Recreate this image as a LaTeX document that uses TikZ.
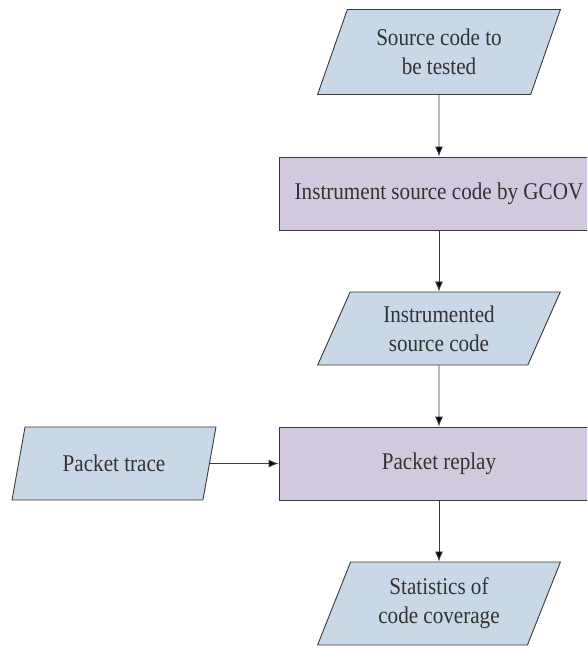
\documentclass[tikz,border=0pt]{standalone}
\usepackage{fontspec}
\setmainfont{Liberation Serif}[FakeStretch=0.88]
\usepackage{xcolor}
\usepackage{tikz}
\usetikzlibrary{shapes.geometric, arrows.meta}

\definecolor{datablue}{HTML}{C9D8E6}
\definecolor{procpurple}{HTML}{D3C9DE}
\definecolor{edgegray}{HTML}{3A3A3A}

\begin{document}
\begin{tikzpicture}[x=1pt, y=-1pt,
    data/.style={shape=trapezium, trapezium left angle=66, trapezium right angle=114,
        trapezium stretches=true, draw=edgegray, fill=datablue, line width=0.9pt,
        minimum width=243pt, minimum height=85pt, inner sep=0pt, align=center,
        text=black!80, font=\fontsize{24}{28.8}\selectfont},
    proc/.style={shape=rectangle, draw=edgegray, fill=procpurple, line width=0.9pt,
        minimum width=320pt, minimum height=73pt, inner sep=0pt,
        text=black!80, font=\fontsize{24}{28.8}\selectfont},
    flow/.style={line width=0.9pt, draw=edgegray, -{Latex[length=10pt, width=8pt]}}]

            \useasboundingbox (0, 0) rectangle (587, 648);
            \clip (0, 0) rectangle (587, 648);

            \node[data] (A) at (439, 52) {Source code to\\be tested};
            \node[proc] (B) at (439, 193.5) {Instrument source code by GCOV};
            \node[data, minimum height=73pt] (C) at (439, 328.5) {Instrumented\\source code};
            \node[proc] (D) at (439, 463.5) {Packet replay};
            \node[data, minimum width=204pt, minimum height=73pt] (E) at (114, 463.5) {Packet trace};
            \node[data, minimum height=83pt] (F) at (439, 603.5) {Statistics of\\code coverage};

            \path[flow] (A) edge (B);
            \path[flow] (B) edge (C);
            \path[flow] (C) edge (D);
            \path[flow] (E) edge (D);
            \path[flow] (D) edge (F);

        \end{tikzpicture}
\end{document}
